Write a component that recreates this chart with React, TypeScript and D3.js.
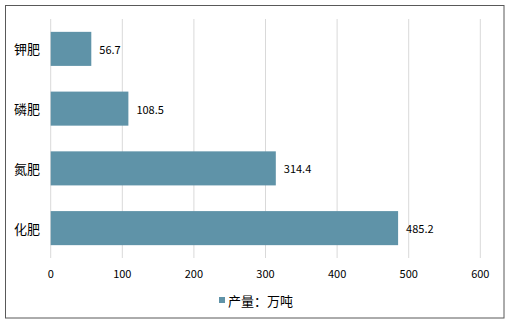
import React from "react";
import * as d3 from "d3";

const categories = ["钾肥", "磷肥", "氮肥", "化肥"];
const values = [56.7, 108.5, 314.4, 485.2];
const xTicks = [0, 100, 200, 300, 400, 500, 600];
const legendLabel = "产量：万吨";

const W = 517;
const H = 328;
const color = "#5f93a8";
const font = "'Noto Sans CJK SC', 'Noto Sans', sans-serif";

export default function App() {
  const x = d3.scaleLinear().domain([0, 600]).range([50.7, 480.3]);
  const y = d3.scaleBand().domain(categories).range([19, 258]).paddingInner(0.43).paddingOuter(0.215);
  return (
    <svg width={W} height={H} style={{ position: "absolute", left: 0, top: 0 }}>
      <rect x={0} y={0} width={W} height={H} fill="#fff" />
      <rect x={5.5} y={5.5} width={498.5} height={312.5} fill="#fff" stroke="#595959" strokeWidth={1} />
      {xTicks.map((t) => (
        <line key={t} x1={x(t)} x2={x(t)} y1={19} y2={258} stroke="#d9d9d9" strokeWidth={1} />
      ))}
      {categories.map((c, i) => (
        <g key={c}>
          <rect x={x(0)} y={y(c)!} width={x(values[i]) - x(0)} height={y.bandwidth()} fill={color} />
          <text x={x(values[i]) + 8} y={y(c)! + y.bandwidth() / 2} dominantBaseline="central" fontSize={11} fontFamily={font} fill="#000">
            {values[i]}
          </text>
          <text x={40} y={y(c)! + y.bandwidth() / 2} dominantBaseline="central" textAnchor="end" fontSize={13} fontFamily={font} fill="#000">
            {c}
          </text>
        </g>
      ))}
      {xTicks.map((t) => (
        <text key={"l" + t} x={x(t)} y={273} dominantBaseline="central" textAnchor="middle" fontSize={11} fontFamily={font} fill="#000">
          {t}
        </text>
      ))}
      <rect x={219} y={297} width={6} height={6} fill={color} />
      <text x={228} y={300} dominantBaseline="central" fontSize={13} fontFamily={font} fill="#000">
        {legendLabel}
      </text>
    </svg>
  );
}
